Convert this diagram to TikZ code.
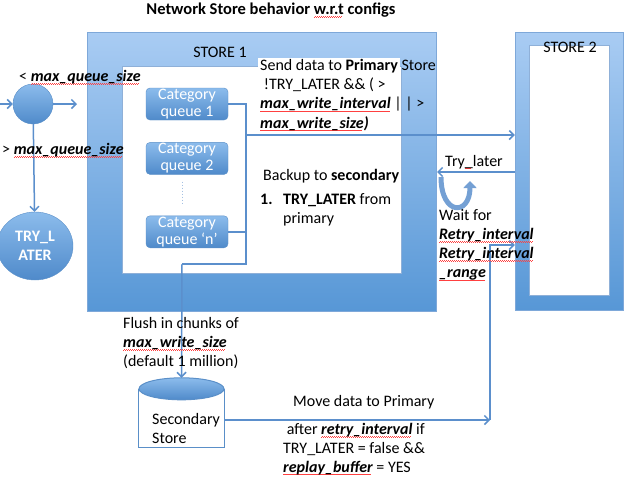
\documentclass[tikz,border=0pt]{standalone}
\usepackage{fontspec}
\setmainfont{Carlito}
\usetikzlibrary{positioning,shapes.geometric,arrows.meta,calc}
\definecolor{lineblue}{HTML}{5B8FCC}
\definecolor{boxtop}{HTML}{A9CCF3}
\definecolor{boxbot}{HTML}{5797D6}
\definecolor{boxedge}{HTML}{7EA8D9}
\definecolor{holeedge}{HTML}{8FB0D8}
\definecolor{qtop}{HTML}{8CBCEC}
\definecolor{qbot}{HTML}{4F8ACA}
\definecolor{qedge}{HTML}{5A8FC8}
\newcommand\sq[1]{\setbox0\hbox{#1}\rlap{\textcolor{red!75}{\raisebox{-2.6pt}{\leaders\hbox to 2pt{\rule{1pt}{0.4pt}\rule[0.5pt]{1pt}{0.4pt}}\hskip\wd0}}}\box0{}}
\newcommand\bi[1]{\textbf{\textit{#1}}}
\tikzset{conn/.style={draw=lineblue, line width=1.5pt, -{Straight Barb[length=4.5pt,width=9pt]}}}
\tikzset{link/.style={draw=lineblue, line width=1.5pt}}

\begin{document}
\begin{tikzpicture}[x=1pt, y=-1pt, node distance=22pt]
\tikzstyle{txt} = [inner sep=0pt, anchor=north west, align=left, font=\fontsize{16}{19.2}\selectfont]
\tikzstyle{store} = [rectangle, draw=boxedge, top color=boxtop, bottom color=boxbot]
\tikzstyle{hole} = [draw=holeedge, fill=white]
\tikzstyle{queue} = [rectangle, rounded corners=4pt, draw=qedge, top color=qtop, bottom color=qbot, text=white, minimum width=82pt, minimum height=32pt, align=center, inner sep=1pt, font=\fontsize{16}{17}\selectfont]
\tikzstyle{bubble} = [draw=qedge, top color=qtop, bottom color=qbot, text=white, inner sep=0pt]

\useasboundingbox (0,0) rectangle (636,477);

% title
\node[font=\bfseries\fontsize{16.5}{18}\selectfont] (title) at (271,10) {Network Store behavior \sq{w.r.t} configs};

% stores
\node[store, minimum width=349pt, minimum height=279pt] (s1) at (261.5,171.5) {};
\draw[hole] ($(s1.north west)+(35,34)$) rectangle ($(s1.south east)+(-35,-38)$);
\node[store, minimum width=108pt, minimum height=278pt] (s2) at (569,171) {};
\draw[hole] ($(s2.north west)+(14,13)$) rectangle ($(s2.south east)+(-14,-15)$);
\node[txt, anchor=center] (s1lab) at (220,52) {STORE 1};
\node[txt, anchor=center] (s2lab) at (570,47) {STORE 2};

% queues
\node[queue] (q1) at (187,104) {Category\\queue 1};
\node[queue, below=22pt of q1] (q2) {Category\\queue 2};
\node[queue, below=41pt of q2] (qn) {Category\\queue `n'};
\draw[lineblue!55, line width=1pt, dash pattern=on 1.5pt off 1.5pt] ($(q2.south)+(-5,7)$) -- ($(qn.north)+(-5,-10)$);

% gate
\node[bubble, circle, minimum size=40pt] (gate) at (33,104) {};
\node[bubble, ellipse, minimum width=76pt, minimum height=68pt, font=\bfseries\fontsize{16}{19}\selectfont, align=center] (tl) at (35,246) {TRY\_L\\ATER};
\coordinate (in) at (0,104);
\coordinate (out) at (77,104);
\draw[conn] (in) -- (gate);
\draw[conn] (gate) -- (out);
\draw[conn] (gate) -- (tl);
\node[txt, anchor=west] (lt) at (19,77) {< \bi{\sq{max\_queue\_size}}};
\node[txt, anchor=west] (gt) at (2,150) {> \bi{\sq{max\_queue\_size}}};

% secondary store
\node[minimum width=85pt, minimum height=69pt, inner sep=0pt] (sec) at (181.5,412.5) {};
\draw[draw=qedge, line width=1pt, fill=white] ($(sec.west)+(0,-23.5)$) rectangle (sec.south east);
\draw[draw=qedge, line width=1pt, top color=qtop, bottom color=qbot] ($(sec.north)+(0,11)$) ellipse [x radius=42.5, y radius=11];
\node[txt] (seclab) at (152,413) {Secondary\\Store};

% links
\coordinate (j1) at (246,104);
\coordinate (j2) at (246,135);
\coordinate (j3) at (246,264);
\coordinate (j4) at (182,264);
\draw[link] (q1.east) -- (j1) -- (j3) -- (j4);
\draw[link] (qn.east) -- (qn.east -| j1);
\fill[white] (258,58) rectangle (400,140);
\draw[conn] (j2) -- (j2 -| s2.west);
\draw[conn] (j4) -- (sec.north);

\coordinate (tx) at (437,172);
\draw[conn] (s2.west |- tx) -- (tx);
\draw[line width=5pt, lineblue!85, -{Triangle[width=13pt,length=7pt]}] (441,177) .. controls (441,216) and (470,216) .. (470,181);

\coordinate (m1) at (490,420);
\coordinate (m2) at (490,245);
\draw[conn] (sec.east |- m1) -- (m1);
\draw[conn] (m1) -- (m2) -- (m2 -| s2.west);

% texts
\node[txt] (send) at (260,59) {Send data to \textbf{Primary} Store\\\ !TRY\_LATER \&\& ( >\\\bi{\sq{max\_write\_interval}} | | >\\\bi{\sq{max\_write\_size})}};
\node[txt] (backup) at (263,169) {Backup to \textbf{secondary}};
\node[txt] (list) at (260,193) {\makebox[23pt][l]{\textbf{1.}}\textbf{TRY\_LATER} from\\\hspace*{23pt}primary};
\node[txt, anchor=center] (trylab) at (474,162) {Try\sq{\_}later};
\node[txt] (wait) at (439,209) {Wait for\\\bi{\sq{Retry\_interval}}\\\bi{\sq{Retry\_interval}}\\\bi{\sq{\_range}}};
\node[txt] (flush) at (123,317) {Flush in chunks of\\\bi{\sq{max\_write\_size}}\\(default 1 million)};
\node[txt, anchor=west] (move) at (293,402) {Move data to Primary};
\node[txt, font=\fontsize{16}{18.8}\selectfont] (after) at (283,423) {\ after \bi{\sq{retry\_interval}} if\\TRY\_LATER = false \&\&\\\bi{\sq{replay\_buffer}} = YES};
\end{tikzpicture}
\end{document}
